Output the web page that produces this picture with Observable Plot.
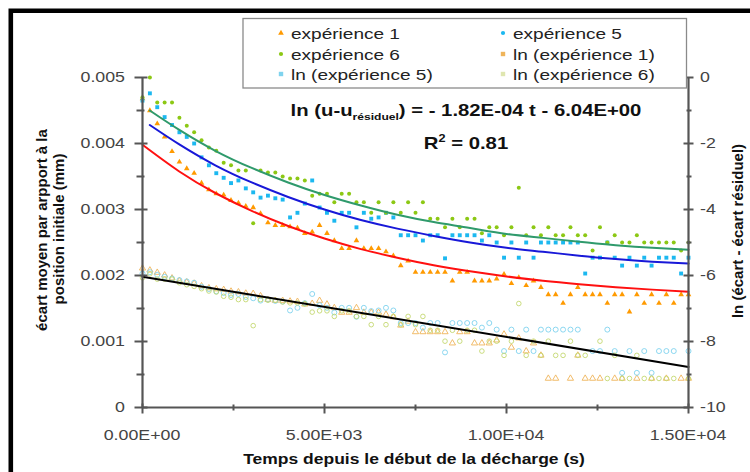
<!DOCTYPE html>
<html><head><meta charset="utf-8">
<script src="https://cdn.jsdelivr.net/npm/d3@7"></script>
<script src="https://cdn.jsdelivr.net/npm/@observablehq/plot@0.6"></script>
<style>html,body{margin:0;padding:0;background:#fff}svg{display:block}</style>
</head><body><div id="chart"></div>
<script>
// time since start of unloading (s)
const times = [0,203,405,608,811,1014,1216,1419,1622,1824,2027,2230,2432,2635,2838,3041,3243,3446,3649,3851,4054,4257,4459,4662,4865,5068,5270,5473,5676,5878,6081,6284,6486,6689,6892,7095,7297,7500,7703,7905,8108,8311,8514,8716,8919,9122,9324,9527,9730,9932,10135,10338,10541,10743,10946,11149,11351,11554,11757,11959,12162,12365,12568,12770,12973,13176,13378,13581,13784,13986,14189,14392,14595,14797,15000];
// mean displacement (µm = 1e-3 mm)
const exp1 = [4.68,4.50,4.30,4.10,3.88,3.72,3.62,3.55,3.40,3.30,3.24,3.22,3.14,3.10,3.05,3.03,2.94,2.80,2.76,2.76,2.74,2.72,2.64,2.66,2.76,2.64,2.53,2.41,2.41,2.53,2.41,2.41,2.41,2.36,2.30,2.15,2.22,2.05,2.05,2.05,2.05,2.05,1.92,2.05,2.05,1.92,1.92,1.92,1.95,2.02,1.88,1.97,1.85,1.92,1.82,1.71,1.71,1.58,1.71,1.82,1.71,1.71,1.71,1.58,1.71,1.71,1.45,1.71,1.58,1.71,1.58,1.71,1.58,1.71,1.71];
const exp5 = [4.65,4.76,4.55,4.40,4.28,4.17,4.10,4.00,3.79,3.67,3.55,3.48,3.40,3.44,3.32,3.26,3.18,3.21,3.17,3.15,2.88,2.95,3.09,3.44,3.03,2.95,2.83,2.95,2.95,2.73,2.95,2.86,2.88,2.95,2.88,2.61,2.61,2.61,2.53,2.61,2.61,2.26,2.61,2.61,2.61,2.61,2.53,2.61,2.50,2.27,2.50,2.27,2.50,2.27,2.50,2.50,2.50,2.50,2.50,2.50,2.03,2.27,2.27,2.50,2.27,2.15,2.27,2.15,2.27,2.15,2.27,2.27,2.27,2.03,2.27];
const exp6 = [4.70,5.00,4.62,4.62,4.62,4.39,4.27,4.17,4.05,3.94,3.89,3.71,3.67,3.59,3.59,2.79,3.59,3.56,3.56,3.50,3.47,3.47,3.44,3.21,3.24,3.24,3.11,3.24,3.24,3.11,3.11,2.95,3.11,2.95,3.11,2.95,3.11,2.95,3.11,2.86,2.86,2.73,2.86,2.73,2.86,2.86,2.64,2.73,2.73,2.61,2.73,3.33,2.61,2.73,2.61,2.73,2.61,2.61,2.73,2.61,2.61,2.38,2.73,2.50,2.61,2.50,2.50,2.61,2.50,2.50,2.50,2.50,2.50,2.38,2.50];
// ln(écart - écart résiduel), right axis
const lnExp1 = [-5.78,-5.84,-5.91,-5.99,-6.08,-6.16,-6.20,-6.24,-6.32,-6.38,-6.41,-6.43,-6.48,-6.50,-6.54,-6.55,-6.62,-6.73,-6.76,-6.76,-6.78,-6.79,-6.87,-6.85,-6.76,-6.87,-6.98,-7.12,-7.12,-6.98,-7.12,-7.12,-7.12,-7.18,-7.26,-7.51,-7.39,-7.71,-7.71,-7.71,-7.71,-7.71,-8.05,-7.71,-7.71,-8.05,-8.05,-8.05,-7.96,-7.78,-8.18,-7.90,-8.29,-8.05,-8.42,-9.12,-9.12,null,-9.12,-8.42,-9.12,-9.12,-9.12,null,-9.12,-9.12,null,-9.12,null,-9.12,null,-9.12,null,-9.12,-9.12];
const lnExp5 = [-5.94,-5.90,-5.98,-6.04,-6.09,-6.14,-6.18,-6.22,-6.34,-6.41,-6.48,-6.53,-6.59,-6.56,-6.65,-6.69,-6.76,-6.73,-6.77,-6.79,-7.06,-6.98,-6.84,-6.56,-6.90,-6.98,-7.12,-6.98,-6.98,-7.25,-6.98,-7.08,-7.06,-6.98,-7.06,-7.44,-7.44,-7.44,-7.58,-7.44,-7.44,-8.33,-7.44,-7.44,-7.44,-7.44,-7.58,-7.44,-7.64,-8.29,-7.64,-8.29,-7.64,-8.29,-7.64,-7.64,-7.64,-7.64,-7.64,-7.64,null,-8.29,-8.29,-7.64,-8.29,-8.95,-8.29,-8.95,-8.29,-8.95,-8.29,-8.29,-8.29,null,-8.29];
const lnExp6 = [-6.07,-5.95,-6.11,-6.11,-6.11,-6.22,-6.28,-6.33,-6.40,-6.47,-6.50,-6.63,-6.66,-6.73,-6.73,-7.52,-6.73,-6.75,-6.75,-6.80,-6.83,-6.83,-6.86,-7.11,-7.07,-7.07,-7.24,-7.07,-7.07,-7.24,-7.24,-7.49,-7.24,-7.49,-7.24,-7.49,-7.24,-7.49,-7.24,-7.66,-7.66,-7.99,-7.66,-7.99,-7.66,-7.66,-8.29,-7.99,-7.99,-8.42,-7.99,-6.85,-8.42,-7.99,-8.42,-7.99,-8.42,-8.42,-7.99,-8.42,-8.42,null,-7.99,-9.12,-8.42,-9.12,-9.12,-8.42,-9.12,-9.12,-9.12,-9.12,-9.12,null,-9.12];
// fitted curves
const fitTimes1 = [0,1000,2000,3000,4000,5000,6000,7000,8000,9000,10000,11000,12000,13000,14000,15000];
const fit1 = [3.98,3.58,3.25,2.98,2.75,2.56,2.40,2.27,2.155,2.063,1.986,1.92,1.868,1.823,1.786,1.755];
const fitTimes56 = [200,1000,2000,3000,4000,5000,6000,7000,8000,9000,10000,11000,12000,13000,14000,15000];
const fit5 = [4.28,3.99,3.67,3.41,3.19,3.00,2.84,2.71,2.60,2.50,2.42,2.36,2.30,2.25,2.21,2.18];
const fit6 = [4.50,4.21,3.89,3.63,3.41,3.22,3.06,2.92,2.81,2.72,2.63,2.57,2.51,2.46,2.42,2.39];
const lnFitTimes = [0,15000];
const lnFit = [-6.04,-8.77];
// axes
const leftTicks = [0,0.001,0.002,0.003,0.004,0.005];
const leftTickLabels = ["0","0.001","0.002","0.003","0.004","0.005"];
const leftMinor = [0.0005,0.0015,0.0025,0.0035,0.0045];
const xTicks = [0,5000,10000,15000];
const xTickLabels = ["0.00E+00","5.00E+03","1.00E+04","1.50E+04"];
const xMinor = [2500,7500,12500];
const rightTicks = [0,-2,-4,-6,-8,-10];
const rightTickLabels = ["0","-2","-4","-6","-8","-10"];
const rightMinor = [-1,-3,-5,-7,-9];
const legendLabels = ["expérience 1","expérience 5","expérience 6","ln (expérience 1)","ln (expérience 5)","ln (expérience 6)"];

const um = v => v / 1000;               // µm -> mm (left axis)
const lnToLeft = r => (r + 10) / 2000;  // right axis [-10,0] -> left axis [0,0.005]

const rows = (ts, vals, f) => ts.map((t, i) => ({t, y: vals[i] == null ? null : f(vals[i])})).filter(d => d.y != null);

const C = {
  e1: "#ff9a00", e5: "#1cb8f0", e6: "#8cc814",
  l1: "#efb45a", l5: "#7fd3ee", l6: "#c4d870",
  f1: "#ff1010", f5: "#1818d8", f6: "#2f9a6c", axis: "#555"
};
const hTick = (a, b) => ({draw(ctx) { ctx.moveTo(a, 0); ctx.lineTo(b, 0); }});
const vTick = (a, b) => ({draw(ctx) { ctx.moveTo(0, a); ctx.lineTo(0, b); }});
const onLeft = vals => vals.map(v => ({t: 0, y: v}));
const onBottom = vals => vals.map(v => ({t: v, y: 0}));
const onRight = vals => vals.map(r => ({t: 15000, y: lnToLeft(r)}));

const svg = Plot.plot({
  width: 750, height: 472,
  marginLeft: 142, marginRight: 62, marginTop: 77, marginBottom: 65,
  style: {fontFamily: "'Liberation Sans', Arial, sans-serif", background: "white", overflow: "visible"},
  x: {domain: [0, 15000], axis: null},
  y: {domain: [0, 0.005], axis: null},
  marks: [
    Plot.dot(rows(times, exp1, um), {x: "t", y: "y", symbol: "triangle", r: 2.1, fill: C.e1, stroke: "none"}),
    Plot.dot(rows(times, exp5, um), {x: "t", y: "y", symbol: "square", r: 2.2, fill: C.e5, stroke: "none"}),
    Plot.dot(rows(times, exp6, um), {x: "t", y: "y", symbol: "circle", r: 2.0, fill: C.e6, stroke: "none"}),
    Plot.dot(rows(times, lnExp1, lnToLeft), {x: "t", y: "y", symbol: "triangle", r: 2.3, fill: "none", stroke: C.l1, strokeWidth: 0.9}),
    Plot.dot(rows(times, lnExp5, lnToLeft), {x: "t", y: "y", symbol: "circle", r: 2.5, fill: "none", stroke: C.l5, strokeWidth: 0.9}),
    Plot.dot(rows(times, lnExp6, lnToLeft), {x: "t", y: "y", symbol: "circle", r: 2.3, fill: "none", stroke: C.l6, strokeWidth: 0.9}),
    Plot.line(rows(fitTimes1, fit1, um), {x: "t", y: "y", stroke: C.f1, strokeWidth: 2, curve: "natural"}),
    Plot.line(rows(fitTimes56, fit5, um), {x: "t", y: "y", stroke: C.f5, strokeWidth: 2, curve: "natural"}),
    Plot.line(rows(fitTimes56, fit6, um), {x: "t", y: "y", stroke: C.f6, strokeWidth: 2, curve: "natural"}),
    Plot.line(rows(lnFitTimes, lnFit, lnToLeft), {x: "t", y: "y", stroke: "#000", strokeWidth: 2}),
    // axis lines
    Plot.ruleX([0, 15000], {stroke: C.axis, strokeWidth: 2.2}),
    Plot.ruleY([0], {stroke: C.axis, strokeWidth: 2.2}),
    // tick marks (crossing the axis)
    Plot.dot(onLeft(leftTicks), {x: "t", y: "y", symbol: hTick(-8, 5), stroke: C.axis, strokeWidth: 2, fill: "none"}),
    Plot.dot(onLeft(leftMinor), {x: "t", y: "y", symbol: hTick(-6, 2), stroke: C.axis, strokeWidth: 2, fill: "none"}),
    Plot.dot(onBottom(xTicks), {x: "t", y: "y", symbol: vTick(-4, 6), stroke: C.axis, strokeWidth: 2, fill: "none"}),
    Plot.dot(onBottom(xMinor), {x: "t", y: "y", symbol: vTick(-3, 3), stroke: C.axis, strokeWidth: 2, fill: "none"}),
    Plot.dot(onRight(rightTicks), {x: "t", y: "y", symbol: hTick(-5, 5), stroke: C.axis, strokeWidth: 2, fill: "none"}),
    Plot.dot(onRight(rightMinor), {x: "t", y: "y", symbol: hTick(-2, 3), stroke: C.axis, strokeWidth: 2, fill: "none"})
  ]
});

const xs = svg.scale("x"), ys = svg.scale("y");
const SX = 1.27; // the reference's upright lettering is horizontally wide
const FONT = "'Liberation Sans', Arial, sans-serif";
const g = d3.select(svg).append("g").attr("font-family", FONT).attr("text-anchor", "start");

// tick labels, positioned with Plot's scales
leftTicks.forEach((v, i) => g.append("text")
  .attr("transform", `translate(${xs.apply(0) - 17},${ys.apply(v) + 5}) scale(${SX},1)`)
  .attr("text-anchor", "end").attr("font-size", 14).attr("fill", "#444").text(leftTickLabels[i]));
xTicks.forEach((v, i) => g.append("text")
  .attr("transform", `translate(${xs.apply(v)},${ys.apply(0) + 33}) scale(${SX},1)`)
  .attr("text-anchor", "middle").attr("font-size", 14).attr("fill", "#444").text(xTickLabels[i]));
rightTicks.forEach((r, i) => g.append("text")
  .attr("transform", `translate(${xs.apply(15000) + 12},${ys.apply(lnToLeft(r)) + 5}) scale(${SX},1)`)
  .attr("text-anchor", "start").attr("font-size", 14).attr("fill", "#444").text(rightTickLabels[i]));

// outer frame (cut at right / bottom)
g.append("path").attr("d", "M750,10.8H10.8V472").attr("fill", "none").attr("stroke", "#000").attr("stroke-width", 4.6);

// legend
g.append("rect").attr("x", 243).attr("y", 18.5).attr("width", 443.5).attr("height", 69.5)
  .attr("fill", "#fff").attr("stroke", "#8a8a8a").attr("stroke-width", 1.3);
const legendStyle = [
  {c: C.e1, s: "tri"}, {c: C.e5, s: "dot"}, {c: C.e6, s: "dot"},
  {c: C.l1, s: "sq"}, {c: C.l5, s: "sq"}, {c: "#dfe6b0", s: "sq"}
];
legendLabels.forEach((lab, i) => {
  const col = i % 2, row = Math.floor(i / 2);
  const mx = col ? 503 : 281, ty = [33, 54, 74][row];
  const st = legendStyle[i];
  if (st.s === "tri") g.append("path").attr("d", d3.symbol(d3.symbolTriangle, 14)()).attr("transform", `translate(${mx},${ty})`).attr("fill", st.c);
  else if (st.s === "dot") g.append("circle").attr("cx", mx).attr("cy", ty).attr("r", 2.1).attr("fill", st.c);
  else g.append("rect").attr("x", mx - 2.2).attr("y", ty - 2.2).attr("width", 4.4).attr("height", 4.4).attr("fill", st.c);
  g.append("text").attr("transform", `translate(${mx + 10},${ty + 5.5}) scale(${SX},1)`)
    .attr("text-anchor", "start").attr("font-size", 15).attr("fill", "#222").text(lab);
});

// regression annotation
const eq = g.append("text").attr("transform", `translate(466,116) scale(${SX},1)`)
  .attr("text-anchor", "middle").attr("font-weight", "bold").attr("font-size", 16).attr("fill", "#111");
eq.append("tspan").text("ln (u-u");
eq.append("tspan").attr("font-size", 9.5).attr("dy", 4).text("résiduel");
eq.append("tspan").attr("dy", -4).text(") = - 1.82E-04 t - 6.04E+00");
const r2 = g.append("text").attr("transform", `translate(466,149) scale(${SX},1)`)
  .attr("text-anchor", "middle").attr("font-weight", "bold").attr("font-size", 16).attr("fill", "#111");
r2.append("tspan").text("R");
r2.append("tspan").attr("font-size", 10).attr("dy", -7).text("2");
r2.append("tspan").attr("dy", 7).text(" = 0.81");

// axis titles
g.append("text").attr("transform", `translate(414,464) scale(1.25,1)`).attr("text-anchor", "middle")
  .attr("font-weight", "bold").attr("font-size", 14).attr("fill", "#111").text("Temps depuis le début de la décharge (s)");
g.append("text").attr("transform", "translate(47,230) rotate(-90)").attr("text-anchor", "middle")
  .attr("font-weight", "bold").attr("font-size", 15).attr("fill", "#111").text("écart moyen par arpport à la");
g.append("text").attr("transform", "translate(64,229) rotate(-90)").attr("text-anchor", "middle")
  .attr("font-weight", "bold").attr("font-size", 15).attr("fill", "#111").text("position initiale (mm)");
g.append("text").attr("transform", "translate(743,231) rotate(-90)").attr("text-anchor", "middle")
  .attr("font-weight", "bold").attr("font-size", 15).attr("fill", "#111").text("ln (écart - écart résiduel)");

document.getElementById("chart").appendChild(svg);
</script></body></html>
